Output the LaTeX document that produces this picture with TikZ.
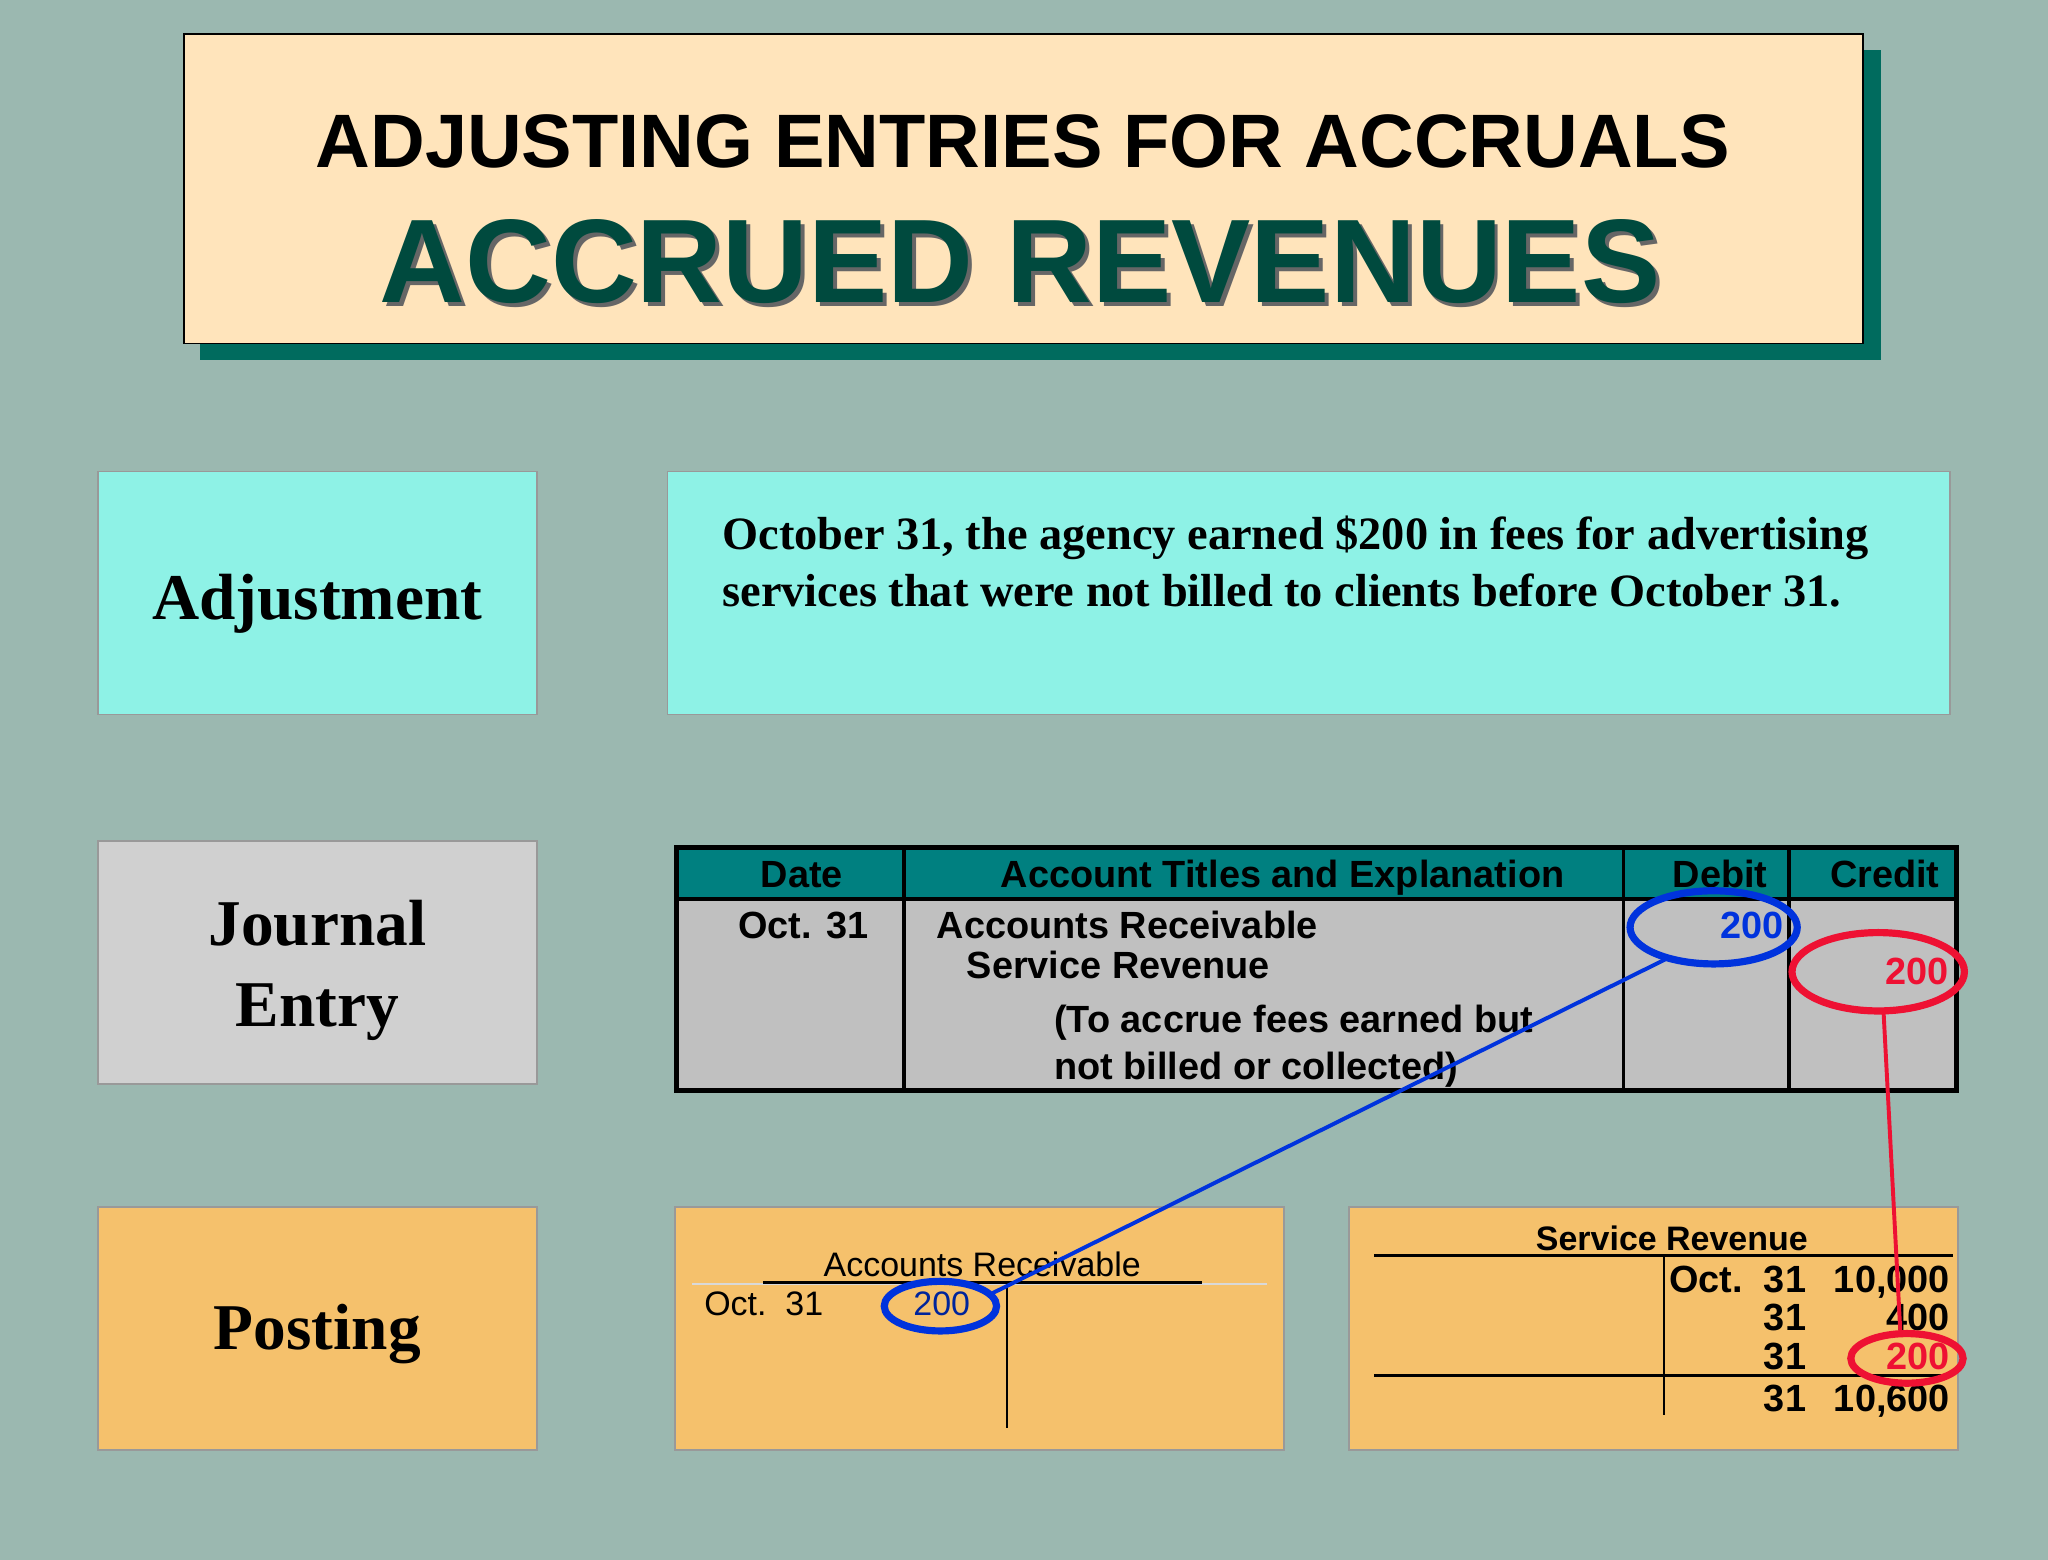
\documentclass[tikz,border=0pt]{standalone}
\usepackage{fontspec}
\setmainfont{Liberation Serif}
\setsansfont{Liberation Sans}
\definecolor{bg}{HTML}{9BB8B0}
\definecolor{cream}{HTML}{FFE4BB}
\definecolor{shad}{HTML}{006B5E}
\definecolor{dkgreen}{HTML}{004A3E}
\definecolor{aqua}{HTML}{8EF2E6}
\definecolor{lgray}{HTML}{D0D0D0}
\definecolor{tgray}{HTML}{C0C0C0}
\definecolor{teal2}{HTML}{008080}
\definecolor{orng}{HTML}{F5C16C}
\definecolor{rblue}{HTML}{0033DD}
\definecolor{rred}{HTML}{EE1133}
\newcommand{\fs}[1]{\fontsize{#1}{#1}\selectfont}
\begin{document}
\begin{tikzpicture}[x=1pt,y=-1pt,
  panel/.style={draw=black!40,line width=1.2pt},
  lbl/.style={font=\rmfamily\bfseries\fs{50}},
  sans/.style={font=\sffamily\bfseries\fs{29}, inner sep=0pt, text height=21pt, text depth=6pt},
  ring/.style={line width=5.5pt}]
\fill[bg] (0,0) rectangle (1568,1194);
\useasboundingbox (0,0) rectangle (1568,1194);
% title
\fill[shad] (153,38) rectangle (1440,276);
\draw[fill=cream,line width=1.5pt] (141,26) rectangle (1426,263);
\node (t1) at (783,108) {\sffamily\bfseries\fs{58}ADJUSTING ENTRIES FOR ACCRUALS};
\node[text=black!60] at (784,203) {\sffamily\bfseries\fs{91}ACCRUED REVENUES};
\node[text=dkgreen] (t2) at (781,200) {\sffamily\bfseries\fs{91}ACCRUED REVENUES};
% row 1
\draw[panel,fill=aqua] (75,361) rectangle (411,547);
\node[lbl] (adj) at (243,462) {Adjustment};
\draw[panel,fill=aqua] (511,361) rectangle (1493,547);
\node[anchor=north west,align=left,font=\rmfamily\bfseries\fs{35.5},inner sep=0pt] (desc) at (553,395)
 {October 31, the agency earned \$200 in fees for advertising\\[8pt]services that were not billed to clients before October 31.};
% row 2
\draw[panel,fill=lgray] (75,644) rectangle (411,830);
\node[lbl,align=center] (je) at (243,743) {Journal\\[12pt]Entry};
\fill[teal2] (518,649) rectangle (1498,688);
\fill[tgray] (518,688) rectangle (1498,835);
\draw[line width=3.5pt] (518,649) rectangle (1498,835);
\draw[line width=3pt] (518,688) -- (1498,688);
\foreach \x in {692,1243,1370} \draw[line width=3pt] (\x,649) -- (\x,835);
\node[sans] at (614,672) {Date};
\node[sans] at (982,672) {Account Titles and Explanation};
\node[sans] at (1317,672) {Debit};
\node[sans] at (1443,672) {Credit};
\node[sans] at (615,711) {Oct. 31};
\node[sans,anchor=west] at (717,711) {Accounts Receivable};
\node[sans,anchor=west] at (740,742) {Service Revenue};
\node[sans,anchor=west] at (807,783) {(To accrue fees earned but};
\node[sans,anchor=west] at (807,819) {not billed or collected)};
\node[sans,anchor=east,text=rblue] at (1366,711) {200};
\node[sans,anchor=east,text=rred] at (1492,746) {200};
\draw[ring,draw=rblue] (1312,710) ellipse (64 and 28);
\draw[ring,draw=rred] (1438,744) ellipse (66 and 30);
\coordinate (jd) at (1276,734);
\coordinate (jc) at (1442,773);
% row 3
\draw[panel,fill=orng] (75,924) rectangle (411,1110);
\node[lbl] (post) at (243,1021) {Posting};
\draw[panel,fill=orng] (517,924) rectangle (983,1110);
\node[font=\sffamily\fs{26},inner sep=0pt] at (752,968) {Accounts Receivable};
\draw[black!15,line width=1pt] (530,983) -- (970,983);
\draw[line width=2pt] (584,982) -- (920,982);
\draw[line width=1.5pt] (771,982) -- (771,1093);
\node[font=\sffamily\fs{26},inner sep=0pt,anchor=west] at (539,998) {Oct.\ \ 31};
\node[font=\sffamily\fs{26},inner sep=0pt,text=rblue!70!black] at (721,998) {200};
\draw[ring,draw=rblue] (720,1000) ellipse (43 and 19);
\coordinate (ad) at (760,990);
\draw[panel,fill=orng] (1033,924) rectangle (1499,1110);
\node[sans,font=\sffamily\bfseries\fs{26}] at (1280,950) {Service Revenue};
\draw[line width=2pt] (1052,961) -- (1495,961);
\draw[line width=1.2pt] (1274,961) -- (1274,1083);
\draw[line width=2pt] (1052,1053) -- (1495,1053);
\foreach \y/\d/\a in {982/{Oct.\ \ 31}/{10,000},1011/31/400,1073/31/{10,600}}{
  \node[sans,anchor=east] at (1383,\y) {\d};
  \node[sans,anchor=east] at (1493,\y) {\a};}
\node[sans,anchor=east] at (1383,1041) {31};
\node[sans,anchor=east,text=rred] at (1493,1041) {200};
\draw[ring,draw=rred] (1460,1040) ellipse (43 and 19);
\coordinate (sc) at (1455,1021);
% connectors
\draw[rblue,line width=3pt] (jd) -- (ad);
\draw[rred,line width=3pt] (jc) -- (sc);
\end{tikzpicture}
\end{document}
